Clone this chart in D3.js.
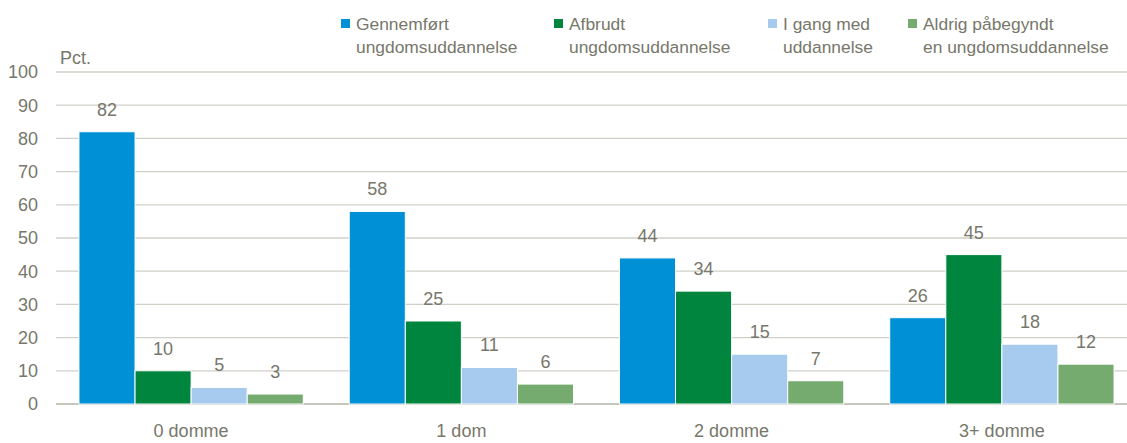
<!DOCTYPE html>
<html>
<head>
<meta charset="utf-8">
<script src="https://cdn.jsdelivr.net/npm/d3@7"></script>
<style>
  body { margin: 0; background: #fff; }
  text { font-family: "Liberation Sans Narrow", "Arial Narrow", "Liberation Sans", sans-serif; fill: #77776b; }
</style>
</head>
<body>
<div id="chart"></div>
<script>
// data
var groups = ["0 domme", "1 dom", "2 domme", "3+ domme"];
var seriesNames = [
  ["Gennemført", "ungdomsuddannelse"],
  ["Afbrudt", "ungdomsuddannelse"],
  ["I gang med", "uddannelse"],
  ["Aldrig påbegyndt", "en ungdomsuddannelse"]
];
var gennemfort = [82, 58, 44, 26];
var afbrudt = [10, 25, 34, 45];
var iGang = [5, 11, 15, 18];
var aldrig = [3, 6, 7, 12];
var yTicks = [0, 10, 20, 30, 40, 50, 60, 70, 80, 90, 100];

var colors = ["#0090d6", "#00853f", "#a6cbee", "#75ab6e"];
var series = [gennemfort, afbrudt, iGang, aldrig];

var W = 1127, H = 443;
var svg = d3.select("#chart").append("svg")
    .attr("width", W).attr("height", H);

var x0 = d3.scaleBand().domain(groups).range([56, 1137]).paddingInner(0.17).paddingOuter(0.085);
var x1 = d3.scaleBand().domain(d3.range(4)).range([0, x0.bandwidth()]);
var y = d3.scaleLinear().domain([0, 100]).range([404, 72]);

// grid
svg.append("g").selectAll("line").data(yTicks).join("line")
    .attr("x1", 56).attr("x2", W)
    .attr("y1", d => y(d)).attr("y2", d => y(d))
    .attr("stroke", d => d == 0 ? "#b5b3a6" : "#d0cfc8")
    .attr("stroke-width", 1.3);

// y labels
svg.append("g").selectAll("text").data(yTicks).join("text")
    .attr("x", 38).attr("y", d => y(d))
    .attr("dy", "0.35em")
    .attr("text-anchor", "end")
    .style("font-size", "18px")
    .text(d => d);

svg.append("text").attr("x", 60).attr("y", 64)
    .style("font-size", "18px").text("Pct.");

// bars
var g = svg.append("g").selectAll("g").data(groups).join("g")
    .attr("transform", d => "translate(" + x0(d) + ",0)");

g.selectAll("rect").data((d, i) => series.map((s, k) => ({k: k, v: s[i]}))).join("rect")
    .attr("x", d => x1(d.k))
    .attr("width", x1.bandwidth())
    .attr("y", d => y(d.v))
    .attr("height", d => y(0) - y(d.v))
    .attr("fill", d => colors[d.k])
    .attr("stroke", "#fff").attr("stroke-width", 1);

g.selectAll("text.val").data((d, i) => series.map((s, k) => ({k: k, v: s[i]}))).join("text")
    .attr("class", "val")
    .attr("x", d => x1(d.k) + x1.bandwidth() / 2)
    .attr("y", d => y(d.v) - 16)
    .attr("text-anchor", "middle")
    .style("font-size", "18px")
    .text(d => d.v);

// x labels
svg.append("g").selectAll("text").data(groups).join("text")
    .attr("x", d => x0(d) + x0.bandwidth() / 2)
    .attr("y", 437)
    .attr("text-anchor", "middle")
    .style("font-size", "18px")
    .text(d => d);

// legend
var legX = [341, 554, 768, 908];
var leg = svg.append("g").selectAll("g").data(seriesNames).join("g")
    .attr("transform", (d, i) => "translate(" + legX[i] + ",0)");
leg.append("rect").attr("x", 0).attr("y", 19).attr("width", 9).attr("height", 9)
    .attr("fill", (d, i) => colors[i]);
leg.append("text").attr("x", 15).attr("y", 30).style("font-size", "17.4px").text(d => d[0]);
leg.append("text").attr("x", 15).attr("y", 53).style("font-size", "17.4px").text(d => d[1]);
</script>
</body>
</html>
